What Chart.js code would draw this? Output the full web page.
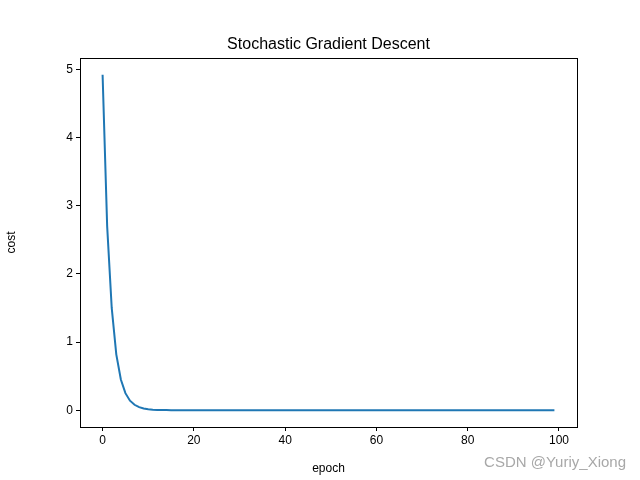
<!DOCTYPE html>
<html><head><script src="https://cdn.jsdelivr.net/npm/chart.js@4"></script>
<style>body{margin:0}canvas{display:block}</style></head>
<body><div style="width:640px;height:480px"><canvas id="c"></canvas></div>
<script>
const epochs = Array.from({length:100},(_, i)=>i);
const cost = [4.92,2.70,1.50,0.82,0.45,0.25,0.14,0.08,0.045,0.025,0.014,0.008,0.005,0.003,0.002,0.001,0.001,0.0005,0.0003,0.0002,
0.0001,0,0,0,0,0,0,0,0,0,0,0,0,0,0,0,0,0,0,0,0,0,0,0,0,0,0,0,0,0,0,0,0,0,0,0,0,0,0,0,
0,0,0,0,0,0,0,0,0,0,0,0,0,0,0,0,0,0,0,0,0,0,0,0,0,0,0,0,0,0,0,0,0,0,0,0,0,0,0,0];
const xTicks = [0,20,40,60,80,100];
const yTicks = [0,1,2,3,4,5];
const F = 'Liberation Sans';
const deco = {id:'deco', afterDraw(ch){const c=ch.ctx,a=ch.chartArea;c.save();
c.strokeStyle='#000';c.lineWidth=1;c.strokeRect(a.left+0.5,a.top+0.5,a.right-a.left,a.bottom-a.top);
c.fillStyle='#000';c.font='16px '+F;c.textAlign='center';c.textBaseline='alphabetic';
c.fillText('Stochastic Gradient Descent',(a.left+a.right)/2,a.top-9);
c.font='15px '+F;c.fillStyle='#a8a8a8';c.textAlign='right';c.fillText('CSDN @Yuriy_Xiong',626,467);
c.restore();}};
new Chart(document.getElementById('c'),{type:'line',
data:{labels:epochs,datasets:[{data:epochs.map((x,i)=>({x,y:cost[i]})),borderColor:'#1f77b4',borderWidth:2,pointRadius:0,tension:0}]},
options:{responsive:true,maintainAspectRatio:false,animation:false,
layout:{padding:{top:58,right:63,left:0,bottom:0}},
plugins:{legend:{display:false},tooltip:{enabled:false}},
scales:{
x:{type:'linear',min:-4.95,max:103.95,afterBuildTicks:s=>{s.ticks=xTicks.map(v=>({value:v}))},
afterFit:s=>{s.height=53},
grid:{drawOnChartArea:false,tickLength:4,color:'#000'},border:{display:false},
ticks:{color:'#000',font:{family:F,size:12},padding:2,maxRotation:0},
title:{display:true,text:'epoch',color:'#000',font:{family:F,size:12},padding:{top:2}}},
y:{min:-0.246,max:5.166,afterBuildTicks:s=>{s.ticks=yTicks.map(v=>({value:v}))},
afterFit:s=>{s.width=80},
grid:{drawOnChartArea:false,tickLength:4,color:'#000'},border:{display:false},
ticks:{color:'#000',font:{family:F,size:12},padding:3},
title:{display:true,text:'cost',color:'#000',font:{family:F,size:12},padding:{bottom:10}}}}},
plugins:[deco]});
</script></body></html>
